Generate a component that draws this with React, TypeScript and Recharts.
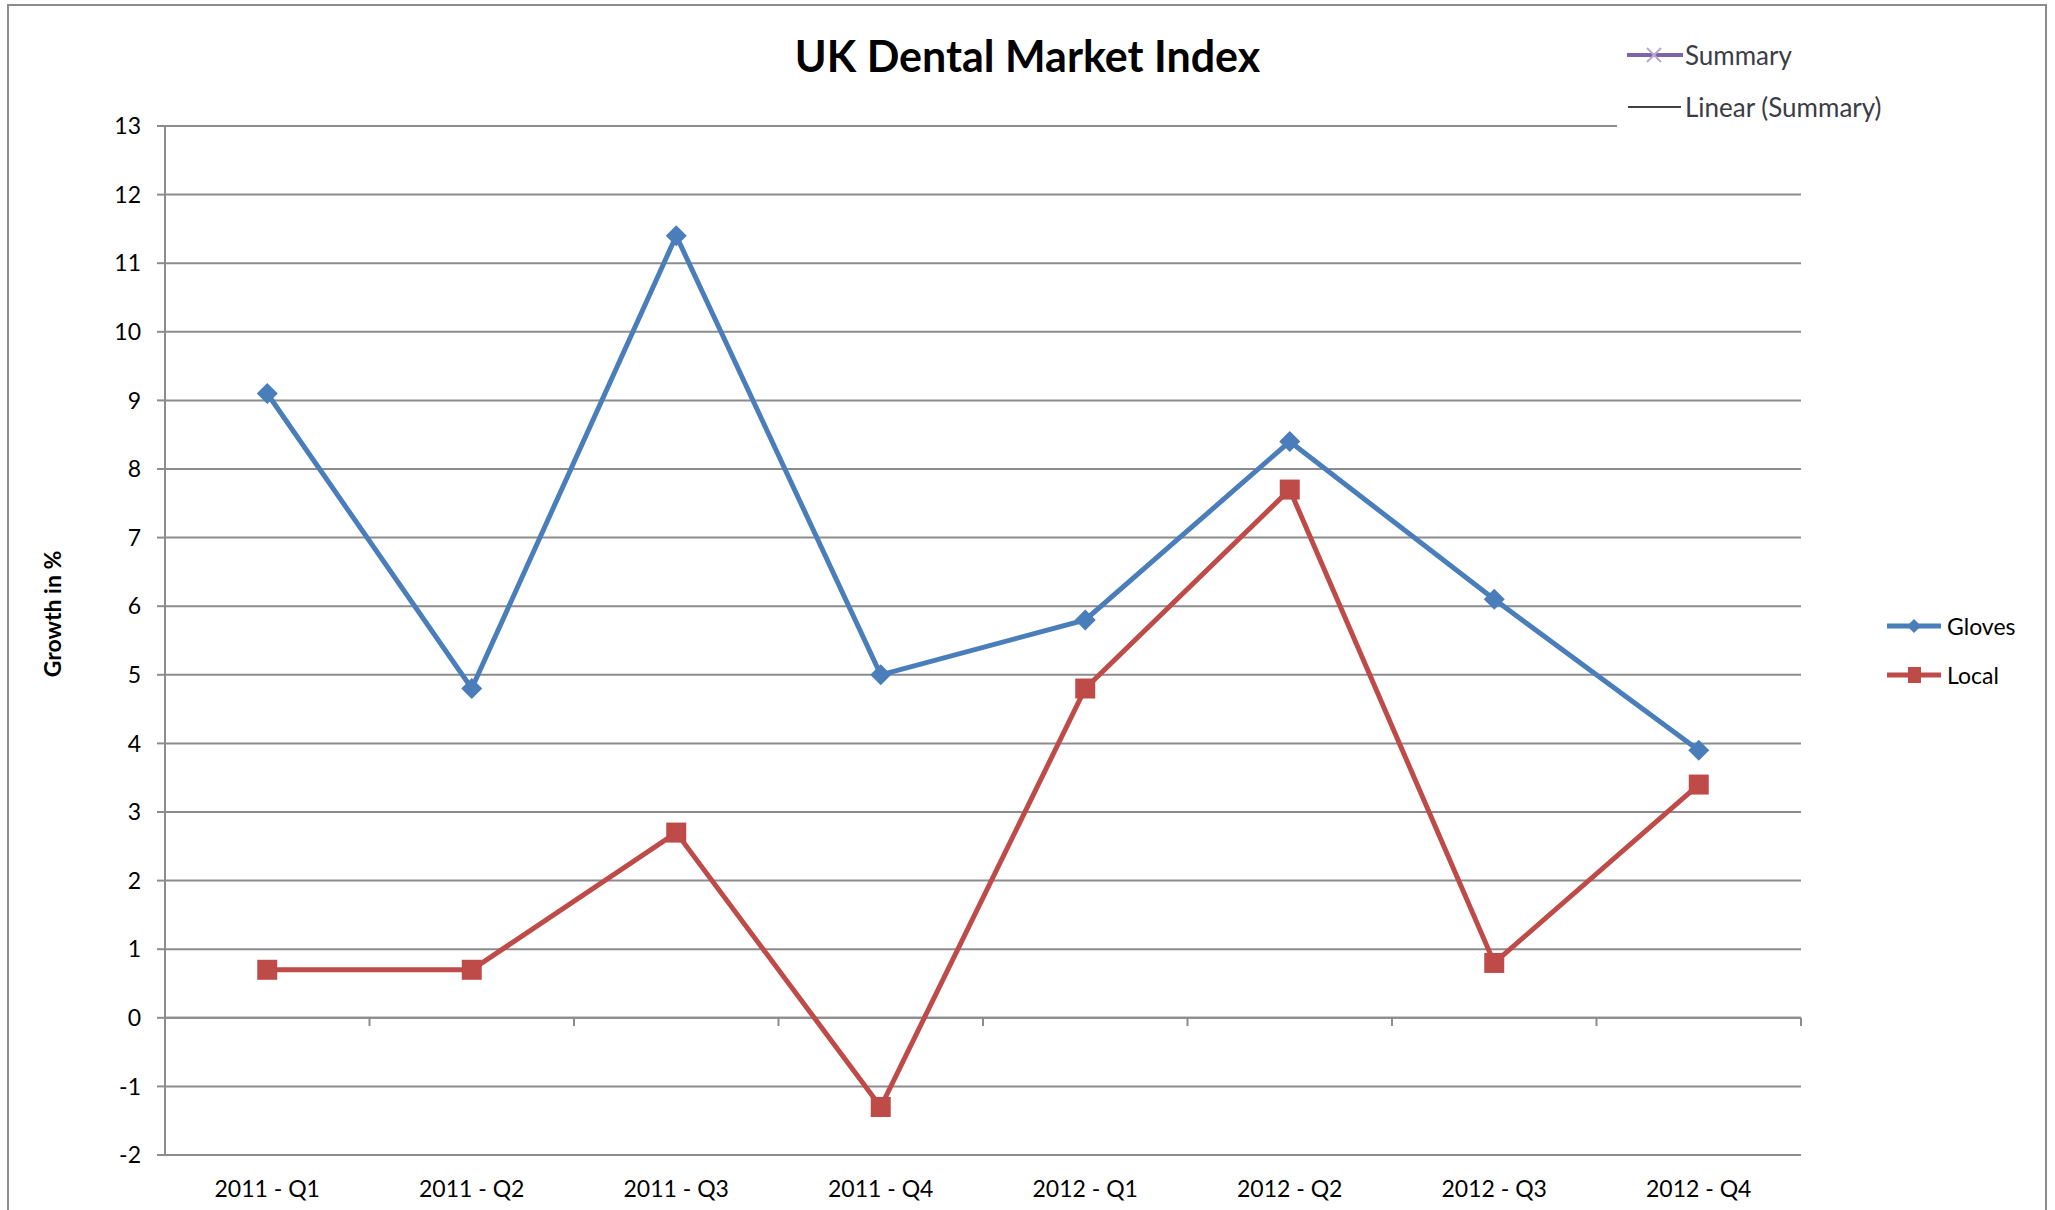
import React from 'react';
import {
  LineChart,
  Line,
  XAxis,
  YAxis,
  CartesianGrid,
  ReferenceLine,
  Legend
} from 'recharts';

// Quarter labels and series values
const quarters = [
  '2011 - Q1',
  '2011 - Q2',
  '2011 - Q3',
  '2011 - Q4',
  '2012 - Q1',
  '2012 - Q2',
  '2012 - Q3',
  '2012 - Q4'
];
const gloves = [9.1, 4.8, 11.4, 5.0, 5.8, 8.4, 6.1, 3.9];
const local = [0.7, 0.7, 2.7, -1.3, 4.8, 7.7, 0.8, 3.4];
const yTicks = [-2, -1, 0, 1, 2, 3, 4, 5, 6, 7, 8, 9, 10, 11, 12, 13];

const BLUE = '#4a7ebb';
const RED = '#be4b48';
const GRID = '#8c8c8c';
const FONT = 'Lato, "Noto Sans", sans-serif';

// numeric x so the category boundaries can carry tick marks on the zero line
const data = quarters.map((q, i) => ({
  x: i + 0.5,
  name: q,
  gloves: gloves[i],
  local: local[i]
}));
const xCenters = quarters.map((_, i) => i + 0.5);
const boundaries = quarters.map((_, i) => i).concat(quarters.length);

const Diamond = (props: any) => {
  const { cx, cy, index } = props;
  const r = 10.5;
  return (
    <path
      key={`d-${index}`}
      d={`M${cx},${cy - r}L${cx + r},${cy}L${cx},${cy + r}L${cx - r},${cy}Z`}
      fill={BLUE}
    />
  );
};

const Square = (props: any) => {
  const { cx, cy, index } = props;
  const s = 20;
  return <rect key={`s-${index}`} x={cx - s / 2} y={cy - s / 2} width={s} height={s} fill={RED} />;
};

const SeriesLegend = () => (
  <div style={{ fontFamily: FONT, fontSize: 23, color: '#000' }}>
    {[
      { label: 'Gloves', color: BLUE, shape: 'diamond' },
      { label: 'Local', color: RED, shape: 'square' }
    ].map((item, i) => (
      <div
        key={item.label}
        style={{ display: 'flex', alignItems: 'center', height: 30, marginTop: i === 0 ? 0 : 19 }}
      >
        <svg width={56} height={24} style={{ marginRight: 5 }}>
          <line x1={1} y1={12} x2={55} y2={12} stroke={item.color} strokeWidth={5} />
          {item.shape === 'diamond' ? (
            <path d="M28,5L35,12L28,19L21,12Z" fill={item.color} />
          ) : (
            <rect x={22} y={4} width={13} height={16} fill={item.color} />
          )}
        </svg>
        <span>{item.label}</span>
      </div>
    ))}
  </div>
);

export default function App() {
  return (
    <div
      style={{
        position: 'absolute',
        left: 0,
        top: 0,
        width: 2055,
        height: 1210,
        overflow: 'hidden',
        background: '#fff',
        fontFamily: FONT
      }}
    >
      {/* outer chart frame, bottom edge falls outside the picture */}
      <div
        style={{
          position: 'absolute',
          left: 7,
          top: 4,
          width: 2036,
          height: 1240,
          border: `2px solid ${GRID}`
        }}
      />

      <LineChart
        width={2055}
        height={1210}
        data={data}
        margin={{ top: 126, right: 254, bottom: 0, left: 0 }}
        style={{ position: 'absolute', left: 0, top: 0 }}
      >
        <CartesianGrid vertical={false} stroke={GRID} strokeWidth={2} />
        <XAxis
          type="number"
          dataKey="x"
          domain={[0, 8]}
          ticks={xCenters}
          tickFormatter={(v: number) => quarters[Math.floor(v)]}
          axisLine={false}
          tickLine={false}
          tickSize={0}
          tickMargin={26}
          height={55}
          tick={{ fill: '#000', fontSize: 23, fontFamily: FONT }}
          interval={0}
        />
        <YAxis
          domain={[-2, 13]}
          ticks={yTicks}
          interval={0}
          width={165}
          tickSize={8}
          tickMargin={16}
          axisLine={{ stroke: GRID, strokeWidth: 2 }}
          tickLine={{ stroke: GRID, strokeWidth: 2 }}
          tick={{ fill: '#000', fontSize: 23, fontFamily: FONT }}
        />
        <ReferenceLine y={0} stroke={GRID} strokeWidth={2} />
        {boundaries.map((b) => (
          <ReferenceLine
            key={`b-${b}`}
            segment={[
              { x: b, y: 0 },
              { x: b, y: -0.12 }
            ]}
            stroke={GRID}
            strokeWidth={2}
          />
        ))}
        <Line
          type="linear"
          dataKey="gloves"
          name="Gloves"
          stroke={BLUE}
          strokeWidth={5}
          dot={Diamond}
          activeDot={false}
          isAnimationActive={false}
        />
        <Line
          type="linear"
          dataKey="local"
          name="Local"
          stroke={RED}
          strokeWidth={5}
          dot={Square}
          activeDot={false}
          isAnimationActive={false}
        />
        <Legend
          layout="horizontal"
          align="center"
          verticalAlign="middle"
          content={<SeriesLegend />}
          wrapperStyle={{ position: 'absolute', left: 1886, top: 611, width: 160 }}
        />
      </LineChart>

      {/* title */}
      <div
        style={{
          position: 'absolute',
          left: 0,
          width: 2055,
          top: 33,
          textAlign: 'center',
          fontSize: 43,
          lineHeight: '46px',
          fontWeight: 700,
          color: '#000'
        }}
      >
        UK Dental Market Index
      </div>

      {/* y axis title */}
      <div
        style={{
          position: 'absolute',
          left: 52 - 100,
          top: 614 - 14,
          width: 200,
          height: 28,
          lineHeight: '28px',
          textAlign: 'center',
          fontSize: 23,
          fontWeight: 700,
          color: '#000',
          transform: 'rotate(-90deg)'
        }}
      >
        Growth in %
      </div>

      {/* Summary / trendline legend box, sits over the top gridline */}
      <div
        style={{
          position: 'absolute',
          left: 1617,
          top: 30,
          width: 290,
          height: 104,
          background: '#fff',
          fontSize: 26,
          color: '#3c3c46'
        }}
      >
        <div style={{ display: 'flex', alignItems: 'center', height: 30, marginTop: 10 }}>
          <svg width={68} height={20}>
            <line x1={10} y1={10} x2={66} y2={10} stroke="#7f63a7" strokeWidth={4} />
            <path d="M30,3L44,17M44,3L30,17" stroke="#b9a8d4" strokeWidth={2} />
          </svg>
          <span>Summary</span>
        </div>
        <div style={{ display: 'flex', alignItems: 'center', height: 30, marginTop: 22 }}>
          <svg width={68} height={20}>
            <line x1={11} y1={10} x2={64} y2={10} stroke="#404040" strokeWidth={2} />
          </svg>
          <span>Linear (Summary)</span>
        </div>
      </div>
    </div>
  );
}
